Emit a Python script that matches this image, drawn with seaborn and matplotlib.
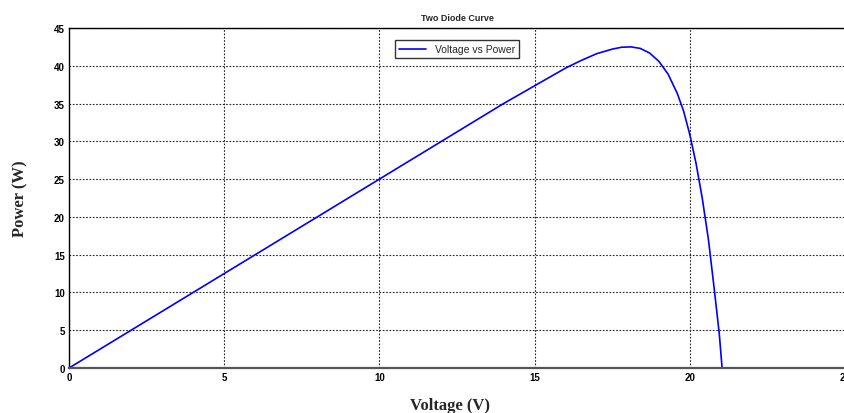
import matplotlib
matplotlib.use("Agg")
import matplotlib.pyplot as plt
import seaborn as sns
import pandas as pd

# values
voltage = [0, 5, 10, 12, 14, 15, 16.0, 16.5, 17.0, 17.5, 17.8, 18.1, 18.4, 18.7,
           19.0, 19.3, 19.6, 19.8, 20.0, 20.2, 20.4, 20.6, 20.8, 20.95, 21.04]
power = [0, 12.5, 25, 30, 35, 37.35, 39.7, 40.7, 41.6, 42.2, 42.45, 42.5, 42.3, 41.7,
         40.6, 38.9, 36.3, 34.0, 30.9, 27.1, 22.5, 17.0, 10.0, 4.5, 0]
x_ticks = [0, 5, 10, 15, 20, 25]
y_ticks = [0, 5, 10, 15, 20, 25, 30, 35, 40, 45]

df = pd.DataFrame({"Voltage": voltage, "Power": power})

sns.set_style("white")
plt.rcParams["font.family"] = ["Liberation Sans", "DejaVu Sans"]

fig = plt.figure(figsize=(8.45, 4.14), dpi=100)
ax = fig.add_axes([0.0817, 0.1087, 0.9183, 0.8213])

sns.lineplot(data=df, x="Voltage", y="Power", color="#0000ff", linewidth=1.2,
             estimator=None, sort=False, label="Voltage vs Power", ax=ax)

ax.set_xlim(0, 25)
ax.set_ylim(0, 45)
ax.set_xticks(x_ticks)
ax.set_yticks(y_ticks)
ax.tick_params(direction="in", length=4, width=0.8, labelsize=7, pad=3, colors="black")
for lab in ax.get_xticklabels() + ax.get_yticklabels():
    lab.set_fontweight("bold")

ax.grid(True, color="#222222", linestyle=(0, (1.5, 1.5)), linewidth=0.8)
for side in ["top", "left", "right"]:
    ax.spines[side].set_color("black")
    ax.spines[side].set_linewidth(1.0)
ax.spines["bottom"].set_color("#555555")
ax.spines["bottom"].set_linewidth(1.6)

ax.set_title("Two Diode Curve", fontsize=6.5, fontweight="bold", pad=6)
ax.set_xlabel("Voltage (V)", fontsize=12, fontweight="bold",
              family=["Liberation Serif", "DejaVu Serif"])
ax.set_ylabel("Power (W)", fontsize=12, fontweight="bold",
              family=["Liberation Serif", "DejaVu Serif"])
ax.xaxis.set_label_coords(0.491, -0.085)
ax.yaxis.set_label_coords(-0.053, 0.5)

leg = ax.legend(loc="upper center", bbox_to_anchor=(0.5, 0.98), fontsize=7.5,
                frameon=True, fancybox=False, handlelength=2.6, borderpad=0.4)
leg.get_frame().set_edgecolor("black")
leg.get_frame().set_linewidth(1.0)

fig.savefig("out.png", dpi=100)
